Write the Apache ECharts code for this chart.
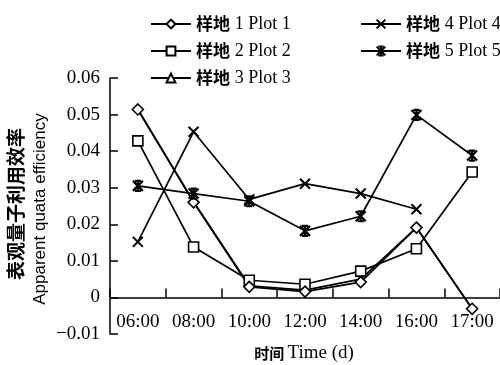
<!DOCTYPE html>
<html>
<head>
<meta charset="utf-8">
<style>
  html, body { margin: 0; padding: 0; background: #fff; }
  #chart { width: 500px; height: 365px; }
</style>
<script src="https://cdn.jsdelivr.net/npm/echarts@6/dist/echarts.min.js"></script>
</head>
<body>
<div id="chart"></div>
<script>
// Sampling times
const times = ['06:00', '08:00', '10:00', '12:00', '14:00', '16:00', '17:00'];

// Apparent quantum efficiency per plot
const plot1 = [0.0514, 0.0260, 0.0029, 0.0016, 0.0042, 0.0191, -0.0031];
const plot2 = [0.0428, 0.0138, 0.0047, 0.0036, 0.0072, 0.0133, 0.0343];
const plot3 = [0.0514, 0.0262, 0.0032, 0.0020, 0.0050, 0.0191, -0.0031];
const plot4 = [0.0152, 0.0453, 0.0268, 0.0311, 0.0284, 0.0241, null];
const plot5 = [0.0305, 0.0284, 0.0263, 0.0182, 0.0222, 0.0499, 0.0388];

// Y-axis range and step
const yMin = -0.01, yMax = 0.06, yStep = 0.01;

const names = ['样地 1 Plot 1', '样地 2 Plot 2', '样地 3 Plot 3', '样地 4 Plot 4', '样地 5 Plot 5'];

const SERIF = '"Liberation Serif", "Times New Roman", serif';
const CJK = '"Noto Sans CJK SC", sans-serif';
const SANS = '"Liberation Sans", Arial, sans-serif';

const crossPath = 'path://M0,0L10,10M10,0L0,10';
const starPath = 'path://M0,0L10,10M10,0L0,10M5,0L5,10M2,0L8,0M2,10L8,10';

// Plot area geometry: the full value range sits in the outer grid,
// the category axis runs along the zero line (bottom of the inner grid).
const G_LEFT = 110, G_RIGHT = -3, G_TOP = 78, G_BOTTOM = 31;
const plotH = 365 - G_TOP - G_BOTTOM;
const zeroBottom = G_BOTTOM + plotH * (0 - yMin) / (yMax - yMin);

function mkSeries(name, data, symbol, size, bw) {
  return {
    type: 'line',
    name: name,
    data: data,
    xAxisIndex: 0,
    yAxisIndex: 0,
    clip: false,
    symbol: symbol,
    symbolSize: size,
    showAllSymbol: true,
    connectNulls: false,
    lineStyle: { color: '#000', width: 1.7 },
    itemStyle: { color: '#fff', borderColor: '#000', borderWidth: bw },
    emphasis: { disabled: true },
    z: 2
  };
}

const legendText = {
  fontSize: 17,
  color: '#000',
  rich: {
    c: { fontFamily: CJK, fontWeight: 'bold', fontSize: 17, lineHeight: 18, color: '#000' },
    e: { fontFamily: SERIF, fontSize: 18, lineHeight: 18, color: '#000' }
  }
};
const legendFmt = function (n) {
  const i = n.indexOf(' ');
  return '{c|' + n.slice(0, i) + '} {e|' + n.slice(i + 1) + '}';
};

const chart = echarts.init(document.getElementById('chart'), null, { renderer: 'canvas' });
chart.setOption({
  animation: false,
  backgroundColor: '#fff',
  grid: [
    { left: G_LEFT, right: G_RIGHT, top: G_TOP, bottom: zeroBottom, containLabel: false },
    { left: G_LEFT, right: G_RIGHT, top: G_TOP, bottom: G_BOTTOM, containLabel: false }
  ],
  legend: [
    {
      data: names.slice(0, 3), orient: 'vertical', left: 145, top: 10,
      itemWidth: 40, itemHeight: 11, itemGap: 9, selectedMode: false,
      textStyle: legendText, formatter: legendFmt
    },
    {
      data: names.slice(3), orient: 'vertical', left: 355, top: 10,
      itemWidth: 40, itemHeight: 11, itemGap: 9, selectedMode: false,
      textStyle: legendText, formatter: legendFmt
    }
  ],
  xAxis: [
    {
      gridIndex: 0,
      type: 'category',
      data: times,
      boundaryGap: true,
      axisLine: { onZero: false, lineStyle: { color: '#000', width: 1.5 } },
      axisTick: { show: true, inside: true, length: 9, interval: 0, lineStyle: { color: '#000', width: 1.5 } },
      axisLabel: { interval: 0, margin: 15, fontFamily: SERIF, fontSize: 19, color: '#000' },
      splitLine: { show: false }
    },
    {
      gridIndex: 1,
      type: 'category',
      data: times,
      show: false
    }
  ],
  yAxis: [
    {
      gridIndex: 0,
      type: 'value',
      min: 0, max: yMax, interval: yStep,
      show: false
    },
    {
      gridIndex: 1,
      type: 'value',
      min: yMin, max: yMax, interval: yStep,
      axisLine: { show: true, onZero: false, lineStyle: { color: '#000', width: 1.5 } },
      axisTick: { show: true, inside: true, length: 8, lineStyle: { color: '#000', width: 1.5 } },
      axisLabel: {
        margin: 10, fontFamily: SERIF, fontSize: 19, color: '#000',
        formatter: function (v) {
          if (Math.abs(v) < 1e-9) return '0';
          const s = Math.abs(v).toFixed(2);
          return v < 0 ? '\u2212' + s : s;
        }
      },
      splitLine: { show: false }
    }
  ],
  graphic: [
    {
      type: 'text', x: 16, y: 204, rotation: Math.PI / 2,
      style: { text: '表观量子利用效率', font: 'bold 19px ' + CJK, fill: '#000', align: 'center', verticalAlign: 'middle' }
    },
    {
      type: 'text', x: 40, y: 209, rotation: Math.PI / 2,
      style: { text: 'Apparent quata efficiency', font: '17px ' + SANS, fill: '#000', align: 'center', verticalAlign: 'middle' }
    },
    {
      type: 'text', x: 304, y: 353,
      style: {
        text: '{c|时间} {e|Time (d)}', align: 'center', verticalAlign: 'middle',
        rich: {
          c: { fontFamily: CJK, fontWeight: 'bold', fontSize: 15, fill: '#000' },
          e: { fontFamily: SERIF, fontSize: 19, fill: '#000' }
        }
      }
    }
  ],
  series: [
    mkSeries(names[2], plot3, 'triangle', 5, 1.2),
    mkSeries(names[1], plot2, 'rect', 10, 1.6),
    mkSeries(names[0], plot1, 'diamond', 11, 1.6),
    mkSeries(names[3], plot4, crossPath, 10, 2),
    mkSeries(names[4], plot5, starPath, 10, 2.2)
  ]
});
</script>
</body>
</html>
